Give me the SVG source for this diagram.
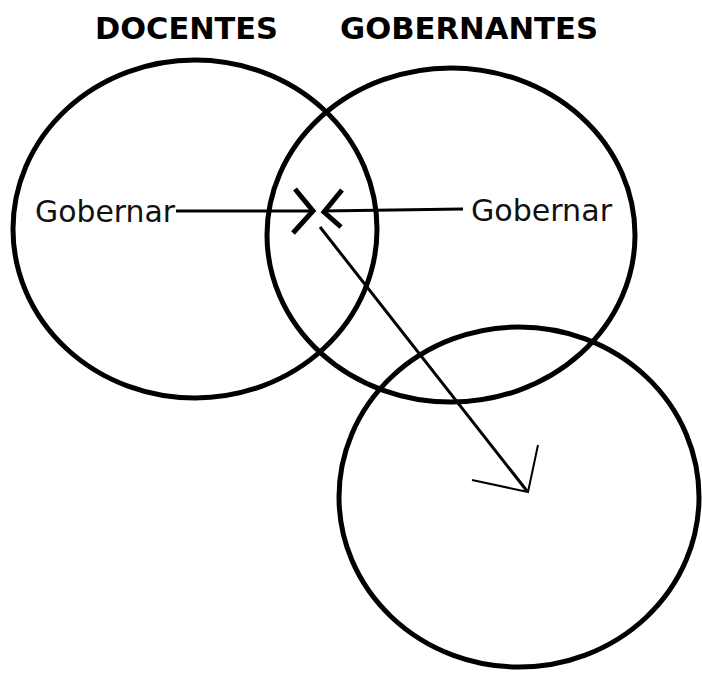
<svg xmlns="http://www.w3.org/2000/svg" width="702" height="681" viewBox="0 0 702 681">
<style>
.c{fill:none;stroke:#000;stroke-width:5}
.t{font-family:"DejaVu Sans Condensed","DejaVu Sans",sans-serif;font-weight:bold;font-size:30px;fill:#000}
.l{font-family:"DejaVu Sans Condensed","DejaVu Sans",sans-serif;font-size:30px;fill:#111}
.ln{fill:none;stroke:#000;stroke-width:3;stroke-linecap:butt}
.ah{fill:none;stroke:#000;stroke-width:5}
.th{fill:none;stroke:#000;stroke-width:2}
</style>
<rect width="702" height="681" fill="#fff"/>
<g id="docentes">
<ellipse class="c" cx="195" cy="229" rx="182" ry="169"/>
<text class="t" x="95" y="39" textLength="183" lengthAdjust="spacingAndGlyphs">DOCENTES</text>
<text class="l" x="35" y="222" textLength="140" lengthAdjust="spacingAndGlyphs">Gobernar</text>
</g>
<g id="gobernantes">
<ellipse class="c" cx="451" cy="235" rx="184" ry="167"/>
<text class="t" x="340" y="39" textLength="258" lengthAdjust="spacingAndGlyphs">GOBERNANTES</text>
<text class="l" x="471" y="221" textLength="141" lengthAdjust="spacingAndGlyphs">Gobernar</text>
</g>
<g id="tercero">
<ellipse class="c" cx="519" cy="497" rx="180" ry="170"/>
</g>
<g id="connectors">
<line class="ln" x1="176" y1="211" x2="312" y2="211"/>
<polyline class="ah" points="295,189 313,211 293,233"/>
<line class="ln" x1="323" y1="211" x2="463" y2="209"/>
<polyline class="ah" points="342,190 324,212 341,227"/>
<line class="ln" x1="320" y1="227" x2="527" y2="491"/>
<polyline class="th" points="538,445 528,492 472,480"/>
</g>
</svg>
